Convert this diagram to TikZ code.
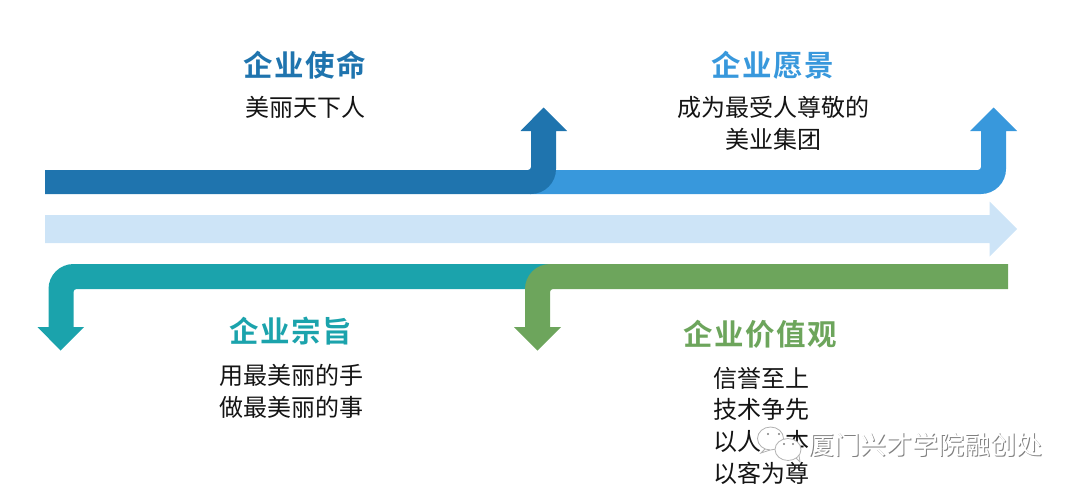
\documentclass[tikz,border=0pt]{standalone}
\usepackage{fontspec}
\setmainfont{Noto Sans CJK SC}
\newfontfamily\headfont[LetterSpace=5,BoldFont={Noto Sans CJK SC Bold}]{Noto Sans CJK SC}
\newcommand{\bodysize}{\fontsize{24}{31.6}\selectfont}
\newcommand{\headsize}{\fontsize{29.5}{32}\selectfont}
\definecolor{cdark}{HTML}{1F74AE}
\definecolor{clight}{HTML}{3898DC}
\definecolor{cpale}{HTML}{CDE4F7}
\definecolor{cteal}{HTML}{1BA3AC}
\definecolor{cgreen}{HTML}{6DA55C}
\tikzset{
  x=1pt,y=-1pt,
  headlabel/.style={inner sep=0pt,font=\headfont\bfseries\headsize,anchor=center},
  bodylabel/.style={inner sep=0pt,font=\bodysize,align=center,text=black!92,anchor=center},
  listlabel/.style={inner sep=0pt,font=\bodysize,align=left,text=black!92,anchor=north west},
  markbubble/.style={draw=black!30,fill=white,line width=0.8pt},
  marktext/.style={inner sep=0pt,font=\fontsize{26}{26}\selectfont,anchor=west},
}
\begin{document}
\begin{tikzpicture}
\useasboundingbox (0,0) rectangle (1080,493);
% pale arrow
\fill[cpale] (45,215) -- (989.5,215) -- (989.5,201.5) -- (1017,229) -- (989.5,256.5) -- (989.5,243) -- (45,243) -- cycle;
% light blue arrow
\fill[clight] (530,170) -- (978,170) arc[start angle=90,end angle=0,radius=3] -- (981,131) -- (970,131) -- (993.5,107.5) -- (1017,131) -- (1006,131) -- (1006,169) arc[start angle=0,end angle=90,radius=25] -- (530,194) -- cycle;
% dark blue arrow
\fill[cdark] (45,170) -- (528,170) arc[start angle=90,end angle=0,radius=3] -- (531,131) -- (520.5,131) -- (543.5,107.5) -- (567,131) -- (556,131) -- (556,169) arc[start angle=0,end angle=90,radius=25] -- (45,194) -- cycle;
% teal arrow
\fill[cteal] (552,264) -- (73.5,264) arc[start angle=270,end angle=180,radius=25] -- (48.5,327) -- (37.5,327) -- (60.5,350.5) -- (84,327) -- (73.5,327) -- (73.5,292) arc[start angle=180,end angle=270,radius=3] -- (552,289) -- cycle;
% green arrow
\fill[cgreen] (1008,264) -- (550,264) arc[start angle=270,end angle=180,radius=25] -- (525,327) -- (514,327) -- (537.5,350.5) -- (561,327) -- (550,327) -- (550,292) arc[start angle=180,end angle=270,radius=3] -- (1008,289) -- cycle;
% labels
\node[headlabel,text=cdark] (h1) at (305,65) {企业使命};
\node[bodylabel] (b1) at (305.5,107) {美丽天下人};
\node[headlabel,text=clight] (h2) at (773,65) {企业愿景};
\node[bodylabel] (b2) at (773,123.5) {成为最受人尊敬的\\美业集团};
\node[headlabel,text=cteal] (h3) at (291,331) {企业宗旨};
\node[bodylabel] (b3) at (291,391.5) {用最美丽的手\\做最美丽的事};
\node[headlabel,text=cgreen] (h4) at (760,334) {企业价值观};
\node[listlabel] (b4) at (713,367) {信誉至上\\技术争先\\以人为本\\以客为尊};
% watermark
\fill[white] (761,428) rectangle (782,452);
\draw[markbubble] (770.5,438.5) ellipse[x radius=13,y radius=11.5];
\draw[black!30,line width=0.8pt] (765,449) -- (761,453) -- (770,450);
\draw[markbubble] (788,449.5) ellipse[x radius=13,y radius=11];
\draw[black!30,line width=0.8pt] (796,458) -- (800,462) -- (799,455);
\fill[black!50] (768,434) circle[radius=1.2] (779,434) circle[radius=1.2] (784,444) circle[radius=1.2] (793,444) circle[radius=1.2];
\node[marktext,text=black!50] (w2) at (808.8,445.8) {厦门兴才学院融创处};
\node[marktext,text=white] (w1) at (808,445) {厦门兴才学院融创处};
\end{tikzpicture}
\end{document}
